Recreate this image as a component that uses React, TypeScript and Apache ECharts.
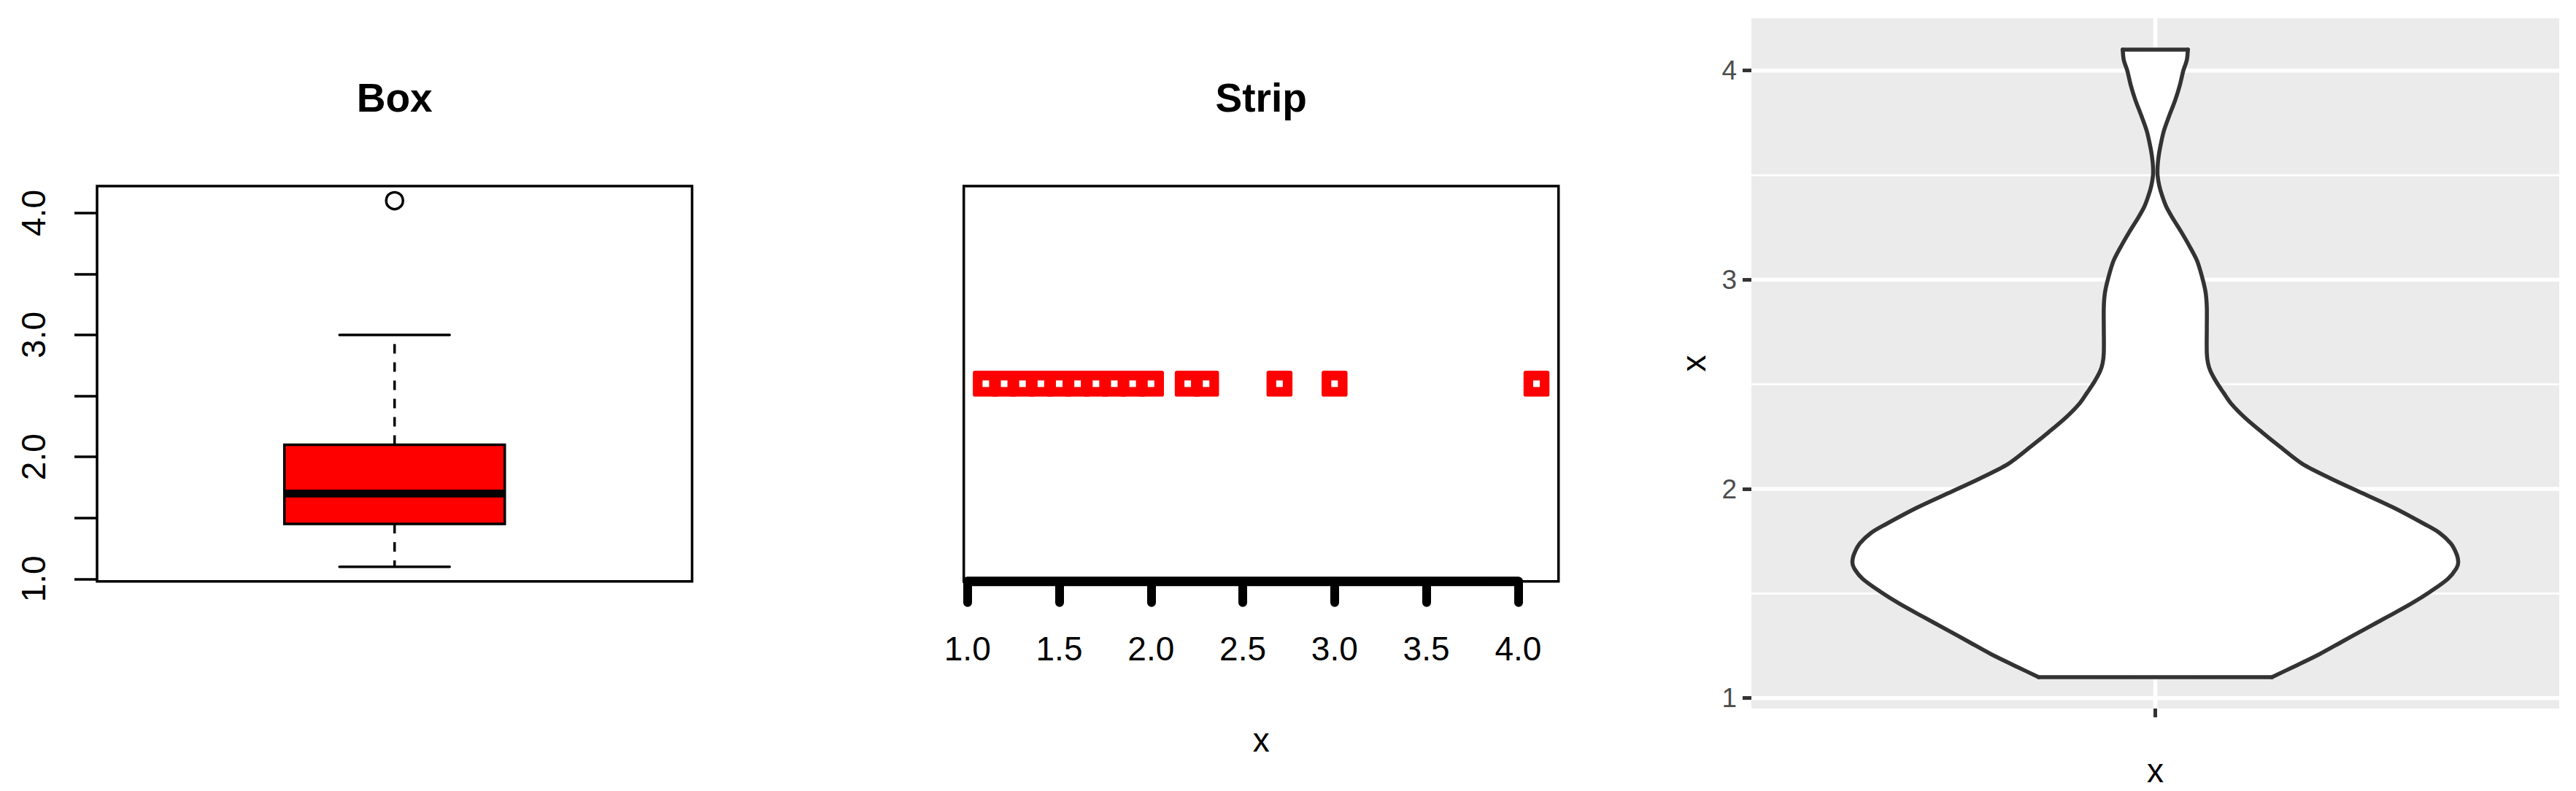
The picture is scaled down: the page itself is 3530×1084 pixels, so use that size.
import React, { useEffect, useRef } from "react";
import * as echarts from "echarts";

// ---------- data ----------
// Box panel: [min whisker, Q1, median, Q3, max whisker]
const boxStats = [1.1, 1.45, 1.7, 2.1, 3.0];
const boxOutliers = [4.1];
const boxYTicks = [1, 1.5, 2, 2.5, 3, 3.5, 4];
const boxYLabels = [1, 2, 3, 4];

// Strip panel
const stripValues = [1.1, 1.2, 1.3, 1.4, 1.5, 1.6, 1.7, 1.8, 1.9, 2.0, 2.2, 2.3, 2.7, 3.0, 4.1];
const stripXTicks = [1, 1.5, 2, 2.5, 3, 3.5, 4];

// Violin panel: y value and relative half-width (density / max density)
const violinY = [
  1.1, 1.15, 1.21, 1.27, 1.33, 1.39, 1.45, 1.51, 1.57, 1.62,
  1.65, 1.69, 1.74, 1.79, 1.83, 1.91, 1.98, 2.05, 2.12, 2.2,
  2.27, 2.34, 2.41, 2.46, 2.51, 2.56, 2.6, 2.65, 2.77, 2.87,
  2.94, 3.01, 3.09, 3.16, 3.23, 3.3, 3.35, 3.4, 3.45, 3.5,
  3.54, 3.59, 3.64, 3.71, 3.78, 3.86, 3.93, 4.0, 4.05, 4.1,
];
const violinDensity = [
  0.385, 0.457, 0.542, 0.617, 0.692, 0.768, 0.843, 0.909, 0.966, 0.994,
  1.0, 0.994, 0.975, 0.938, 0.891, 0.787, 0.683, 0.579, 0.485, 0.413,
  0.353, 0.296, 0.249, 0.225, 0.202, 0.183, 0.174, 0.17, 0.17, 0.17,
  0.166, 0.155, 0.138, 0.113, 0.085, 0.055, 0.036, 0.023, 0.013, 0.0075,
  0.0075, 0.011, 0.017, 0.028, 0.045, 0.066, 0.081, 0.0925, 0.104, 0.1075,
];
const violinMajorY = [1, 2, 3, 4];
const violinMinorY = [1.5, 2.5, 3.5];
const violinCategory = [1];

const FONT = '"Liberation Sans", Arial, Helvetica, sans-serif';

export default function App() {
  const ref = useRef<HTMLDivElement>(null);

  useEffect(() => {
    document.body.style.margin = "0";
    if (!ref.current) return;
    const chart = echarts.init(ref.current, undefined, { renderer: "svg" });

    const BOX_HALF = 0.2;
    const CAP_HALF = 0.1;
    const VX_MIN = 0.4, VX_MAX = 1.6, VY_MIN = 0.95, VY_MAX = 4.25;
    const VIOLIN_HALF = 0.45;
    const LW = 3.5;

    const option: any = {
      animation: false,
      backgroundColor: "#ffffff",
      textStyle: { fontFamily: FONT },
      graphic: [
        {
          type: "text", x: 540.7, y: 134,
          style: { text: "Box", fill: "#000", font: `bold 55px ${FONT}`, align: "center", verticalAlign: "middle", textAlign: "center", textVerticalAlign: "middle" },
        },
        {
          type: "text", x: 1728.2, y: 134,
          style: { text: "Strip", fill: "#000", font: `bold 55px ${FONT}`, align: "center", verticalAlign: "middle", textAlign: "center", textVerticalAlign: "middle" },
        },
      ],
      grid: [
        { left: 133, top: 255, width: 815.4, height: 541.7, show: true, borderColor: "#000", borderWidth: LW, backgroundColor: "transparent" },
        { left: 1320.7, top: 255, width: 815, height: 541.7, show: true, borderColor: "#000", borderWidth: LW, backgroundColor: "transparent" },
        { left: 2400, top: 25, width: 1107, height: 949, show: true, borderWidth: 0, backgroundColor: "#EBEBEB" },
      ],
      xAxis: [
        { gridIndex: 0, type: "value", min: 0.46, max: 1.54, show: false },
        {
          gridIndex: 1, type: "value", min: 0.98, max: 4.22,
          axisLine: { show: false },
          axisTick: { show: true, customValues: stripXTicks, length: 29, lineStyle: { color: "#000", width: 12, cap: "round" } },
          axisLabel: { show: true, customValues: stripXTicks, formatter: (v: number) => v.toFixed(1), fontSize: 46, color: "#000", margin: 69, fontFamily: FONT },
          splitLine: { show: false },
          name: "x", nameLocation: "middle", nameGap: 194,
          nameTextStyle: { fontSize: 46, color: "#000", fontFamily: FONT },
        },
        {
          gridIndex: 2, type: "value", min: VX_MIN, max: VX_MAX,
          axisLine: { show: false },
          axisTick: { show: true, customValues: violinCategory, length: 12, lineStyle: { color: "#333333", width: 5 } },
          axisLabel: { show: false },
          splitLine: { show: false },
          name: "x", nameLocation: "middle", nameGap: 62,
          nameTextStyle: { fontSize: 46, color: "#000", fontFamily: FONT },
        },
      ],
      yAxis: [
        {
          gridIndex: 0, type: "value", min: 0.98, max: 4.22,
          axisLine: { show: false },
          axisTick: { show: true, customValues: boxYTicks, length: 31, lineStyle: { color: "#000", width: LW } },
          axisLabel: { show: true, customValues: boxYLabels, formatter: (v: number) => v.toFixed(1), rotate: 90, fontSize: 46, color: "#000", margin: 64, fontFamily: FONT },
          splitLine: { show: false },
        },
        { gridIndex: 1, type: "value", min: 0, max: 2, show: false },
        {
          gridIndex: 2, type: "value", min: VY_MIN, max: VY_MAX,
          axisLine: { show: false },
          axisTick: { show: true, customValues: violinMajorY, length: 12, lineStyle: { color: "#333333", width: 5 } },
          axisLabel: { show: true, customValues: violinMajorY, fontSize: 37, color: "#4D4D4D", margin: 20, fontFamily: FONT },
          splitLine: { show: false },
          name: "x", nameLocation: "middle", nameGap: 56,
          nameTextStyle: { fontSize: 46, color: "#000", fontFamily: FONT },
        },
      ],
      series: [
        // ---- Box panel ----
        {
          type: "custom", xAxisIndex: 0, yAxisIndex: 0, z: 3,
          data: [[1, ...boxStats]],
          encode: { x: 0, y: [1, 2, 3, 4, 5] },
          renderItem: (params: any, api: any) => {
            const x = api.value(0);
            const mn = api.value(1), q1 = api.value(2), md = api.value(3), q3 = api.value(4), mx = api.value(5);
            const pTop = api.coord([x, mx]);
            const pQ3c = api.coord([x, q3]);
            const pQ1c = api.coord([x, q1]);
            const pBot = api.coord([x, mn]);
            const capTL = api.coord([x - CAP_HALF, mx]);
            const capTR = api.coord([x + CAP_HALF, mx]);
            const capBL = api.coord([x - CAP_HALF, mn]);
            const capBR = api.coord([x + CAP_HALF, mn]);
            const bl = api.coord([x - BOX_HALF, q1]);
            const tr = api.coord([x + BOX_HALF, q3]);
            const mL = api.coord([x - BOX_HALF, md]);
            const mR = api.coord([x + BOX_HALF, md]);
            const dash = { stroke: "#000", lineWidth: LW, lineDash: [13, 12] };
            const solid = { stroke: "#000", lineWidth: LW, lineCap: "round" };
            return {
              type: "group",
              children: [
                { type: "line", shape: { x1: pQ3c[0], y1: pQ3c[1], x2: pTop[0], y2: pTop[1] }, style: dash },
                { type: "line", shape: { x1: pQ1c[0], y1: pQ1c[1], x2: pBot[0], y2: pBot[1] }, style: dash },
                { type: "line", shape: { x1: capTL[0], y1: capTL[1], x2: capTR[0], y2: capTR[1] }, style: solid },
                { type: "line", shape: { x1: capBL[0], y1: capBL[1], x2: capBR[0], y2: capBR[1] }, style: solid },
                {
                  type: "rect",
                  shape: { x: bl[0], y: tr[1], width: tr[0] - bl[0], height: bl[1] - tr[1] },
                  style: { fill: "#FF0000", stroke: "#000", lineWidth: LW },
                },
                { type: "line", shape: { x1: mL[0], y1: mL[1], x2: mR[0], y2: mR[1] }, style: { stroke: "#000", lineWidth: 10.7 } },
              ],
            };
          },
        },
        {
          type: "scatter", xAxisIndex: 0, yAxisIndex: 0, z: 4,
          data: boxOutliers.map((v) => [1, v]),
          symbol: "circle", symbolSize: 23,
          itemStyle: { color: "rgba(255,255,255,0)", borderColor: "#000", borderWidth: LW, opacity: 1 },
        },
        // ---- Strip panel ----
        {
          type: "line", xAxisIndex: 1, yAxisIndex: 1, z: 5, clip: false,
          data: [[stripXTicks[0], 0], [stripXTicks[stripXTicks.length - 1], 0]],
          symbol: "none",
          lineStyle: { color: "#000", width: 13, cap: "round" },
        },
        {
          type: "scatter", xAxisIndex: 1, yAxisIndex: 1, z: 3,
          data: stripValues.map((v) => [v, 1]),
          symbol: "path://M3,0 H33 Q36,0 36,3 V33 Q36,36 33,36 H3 Q0,36 0,33 V3 Q0,0 3,0 Z",
          symbolSize: 35.5,
          itemStyle: { color: "#FF0000", opacity: 1 },
        },
        {
          type: "scatter", xAxisIndex: 1, yAxisIndex: 1, z: 4,
          data: stripValues.map((v) => [v, 1]),
          symbol: "rect", symbolSize: 9,
          itemStyle: { color: "#FFFFFF", opacity: 1 },
        },
        // ---- Violin panel: gridlines ----
        {
          type: "custom", xAxisIndex: 2, yAxisIndex: 2, z: 1,
          data: [...violinMinorY.map((v) => [v, 0]), ...violinMajorY.map((v) => [v, 1])],
          encode: { y: 0 },
          renderItem: (params: any, api: any) => {
            const v = api.value(0);
            const major = api.value(1) === 1;
            const a = api.coord([VX_MIN, v]);
            const b = api.coord([VX_MAX, v]);
            return {
              type: "line",
              shape: { x1: a[0], y1: a[1], x2: b[0], y2: b[1] },
              style: { stroke: "#FFFFFF", lineWidth: major ? 5.5 : 2.75 },
            };
          },
        },
        {
          type: "custom", xAxisIndex: 2, yAxisIndex: 2, z: 1,
          data: violinCategory.map((c) => [c]),
          encode: { x: 0 },
          renderItem: (params: any, api: any) => {
            const c = api.value(0);
            const a = api.coord([c, VY_MIN]);
            const b = api.coord([c, VY_MAX]);
            return {
              type: "line",
              shape: { x1: a[0], y1: a[1], x2: b[0], y2: b[1] },
              style: { stroke: "#FFFFFF", lineWidth: 5.5 },
            };
          },
        },
        // ---- Violin shape ----
        {
          type: "custom", xAxisIndex: 2, yAxisIndex: 2, z: 2,
          data: violinCategory.map((c) => [c]),
          encode: { x: 0 },
          renderItem: (params: any, api: any) => {
            const c = api.value(0);
            const right: number[][] = [];
            const left: number[][] = [];
            for (let i = 0; i < violinY.length; i++) {
              right.push(api.coord([c + VIOLIN_HALF * violinDensity[i], violinY[i]]));
              left.push(api.coord([c - VIOLIN_HALF * violinDensity[i], violinY[i]]));
            }
            const outline = { stroke: "#333333", lineWidth: 5.5, lineCap: "round", lineJoin: "round", fill: null };
            const n = violinY.length - 1;
            return {
              type: "group",
              children: [
                {
                  type: "polygon",
                  shape: { points: [...right, ...left.slice().reverse()], smooth: 0.3 },
                  style: { fill: "#FFFFFF", stroke: null },
                },
                { type: "polyline", shape: { points: right, smooth: 0.3 }, style: outline },
                { type: "polyline", shape: { points: left, smooth: 0.3 }, style: outline },
                { type: "line", shape: { x1: left[0][0], y1: left[0][1], x2: right[0][0], y2: right[0][1] }, style: outline },
                { type: "line", shape: { x1: left[n][0], y1: left[n][1], x2: right[n][0], y2: right[n][1] }, style: outline },
              ],
            };
          },
        },
      ],
    };

    chart.setOption(option);
    return () => chart.dispose();
  }, []);

  return <div ref={ref} style={{ position: "absolute", left: 0, top: 0, width: 3530, height: 1084 }} />;
}
